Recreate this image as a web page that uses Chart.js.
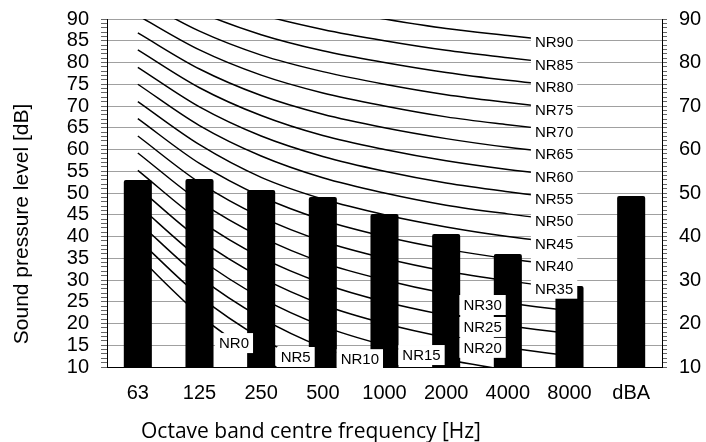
<!DOCTYPE html>
<html>
<head>
<meta charset="utf-8">
<script src="https://cdn.jsdelivr.net/npm/chart.js@4.4.1/dist/chart.umd.min.js"></script>
<style>
  html, body { margin: 0; padding: 0; background: #fff; }
  #wrap { width: 706px; height: 442px; }
</style>
</head>
<body>
<div id="wrap"><canvas id="nrChart"></canvas></div>
<script>
// Categories and measured levels
const frequencies = ['63', '125', '250', '500', '1000', '2000', '4000', '8000', 'dBA'];
const measured = [53.0, 53.2, 50.7, 49.1, 45.2, 40.6, 36.0, 28.6, 49.3];

// Tick labels
const leftTicks = [10, 15, 20, 25, 30, 35, 40, 45, 50, 55, 60, 65, 70, 75, 80, 85, 90];
const rightTicks = [10, 20, 30, 40, 50, 60, 70, 80, 90];

// NR curves, 63 Hz .. 8000 Hz
const NR0 = [35.5, 22.0, 12.0, 4.8, 0.0, -3.5, -6.1, -8.0];
const NR5 = [39.4, 26.3, 16.6, 9.7, 5.0, 1.6, -1.0, -2.8];
const NR10 = [43.4, 30.7, 21.3, 14.5, 10.0, 6.6, 4.2, 2.3];
const NR15 = [47.3, 35.0, 25.9, 19.4, 15.0, 11.7, 9.3, 7.4];
const NR20 = [51.3, 39.4, 30.6, 24.3, 20.0, 16.8, 14.4, 12.6];
const NR25 = [55.2, 43.7, 35.2, 29.2, 25.0, 21.9, 19.5, 17.7];
const NR30 = [59.2, 48.1, 39.9, 34.0, 30.0, 26.9, 24.7, 22.9];
const NR35 = [63.1, 52.4, 44.5, 38.9, 35.0, 32.0, 29.8, 28.0];
const NR40 = [67.1, 56.8, 49.2, 43.8, 40.0, 37.1, 34.9, 33.2];
const NR45 = [71.0, 61.1, 53.6, 48.6, 45.0, 42.2, 40.0, 38.3];
const NR50 = [75.0, 65.5, 58.5, 53.5, 50.0, 47.2, 45.2, 43.5];
const NR55 = [78.9, 69.8, 63.1, 58.4, 55.0, 52.3, 50.3, 48.6];
const NR60 = [82.9, 74.2, 67.8, 63.2, 60.0, 57.4, 55.4, 53.8];
const NR65 = [86.8, 78.5, 72.4, 68.1, 65.0, 62.5, 60.5, 58.9];
const NR70 = [90.8, 82.9, 77.1, 73.0, 70.0, 67.5, 65.7, 64.1];
const NR75 = [94.7, 87.2, 81.7, 77.9, 75.0, 72.6, 70.8, 69.2];
const NR80 = [98.7, 91.6, 86.4, 82.7, 80.0, 77.7, 75.9, 74.4];
const NR85 = [102.6, 95.9, 91.0, 87.6, 85.0, 82.8, 81.1, 79.5];
const NR90 = [106.6, 100.3, 95.7, 92.5, 90.0, 87.8, 86.2, 84.7];

const nrLevels = [0, 5, 10, 15, 20, 25, 30, 35, 40, 45, 50, 55, 60, 65, 70, 75, 80, 85, 90];
const nrCurves = [NR0, NR5, NR10, NR15, NR20, NR25, NR30, NR35, NR40, NR45,
  NR50, NR55, NR60, NR65, NR70, NR75, NR80, NR85, NR90];

// Where the low curve labels sit (category index, dB); the rest sit by the 8000 point
const lowLabelAt = {
  0: [1.56, 15.5],
  5: [2.56, 12.3],
  10: [3.6, 11.8],
  15: [4.6, 12.75],
  20: [5.59, 14.4],
  25: [5.59, 19.2],
  30: [5.59, 24.25],
};

const FONT = '"Liberation Sans", Arial, sans-serif';

// Line datasets
const curveSets = nrCurves.map((vals, i) => ({
  type: 'line',
  label: 'NR' + nrLevels[i],
  data: vals,
  borderColor: '#000',
  borderWidth: 1.5,
  pointRadius: 0,
  fill: false,
  cubicInterpolationMode: 'monotone',
  order: 1,
}));

// Label boxes on top of everything
const nrLabels = {
  id: 'nrLabels',
  afterDatasetsDraw(chart) {
    const { ctx } = chart;
    const x = chart.scales.x;
    const y = chart.scales.y;
    ctx.save();
    ctx.font = '15px ' + FONT;
    ctx.textAlign = 'center';
    ctx.textBaseline = 'middle';
    nrLevels.forEach((lv, i) => {
      const pos = lowLabelAt[lv] || [6.75, nrCurves[i][7]];
      const px = x.getPixelForValue(pos[0]);
      const py = y.getPixelForValue(pos[1]);
      const text = 'NR' + lv;
      const w = ctx.measureText(text).width + 8;
      const h = 20;
      ctx.fillStyle = '#fff';
      ctx.fillRect(px - w / 2, py - h / 2, w, h);
      ctx.fillStyle = '#000';
      ctx.fillText(text, px, py + 1);
    });
    ctx.restore();
  },
};

// Axis titles
const axisTitles = {
  id: 'axisTitles',
  afterDraw(chart) {
    const { ctx } = chart;
    ctx.save();
    ctx.fillStyle = '#000';
    ctx.textAlign = 'center';
    ctx.textBaseline = 'middle';
    ctx.font = '21px ' + FONT;
    ctx.translate(22, 224);
    ctx.rotate(-Math.PI / 2);
    ctx.fillText('Sound pressure level [dB]', 0, 0);
    ctx.restore();

    ctx.save();
    ctx.fillStyle = '#000';
    ctx.textAlign = 'center';
    ctx.textBaseline = 'middle';
    ctx.font = '21px "Open Sans", sans-serif';
    ctx.fillText('Octave band centre frequency [Hz]', 311, 432);
    ctx.restore();
  },
};

// Fix axis box sizes so the plot area matches
function fixVertical(width) {
  return (s) => {
    s.width = width;
    s.paddingTop = 0;
    s.paddingBottom = 0;
  };
}

new Chart(document.getElementById('nrChart'), {
  type: 'bar',
  data: {
    labels: frequencies,
    datasets: [
      {
        type: 'bar',
        label: 'Measured',
        data: measured,
        backgroundColor: '#000',
        barPercentage: 0.455,
        categoryPercentage: 1,
        borderRadius: { topLeft: 2, topRight: 2 },
        order: 0,
      },
      ...curveSets,
    ],
  },
  options: {
    responsive: true,
    maintainAspectRatio: false,
    animation: false,
    layout: { padding: { top: 19, left: 0, right: 0, bottom: 0 } },
    plugins: {
      legend: { display: false },
      tooltip: { enabled: false },
    },
    scales: {
      x: {
        type: 'category',
        offset: true,
        grid: { display: false, drawTicks: false },
        border: { color: '#000', width: 1 },
        ticks: { color: '#000', font: { family: FONT, size: 20 }, padding: 14 },
        afterFit: (s) => {
          s.height = 75;
          s.paddingLeft = 0;
          s.paddingRight = 0;
        },
      },
      y: {
        position: 'left',
        min: 10,
        max: 90,
        ticks: {
          stepSize: 1,
          maxTicksLimit: 100,
          autoSkip: false,
          color: '#000',
          font: { family: FONT, size: 20 },
          padding: 12,
          callback: (v) => (leftTicks.includes(v) ? String(v) : ''),
        },
        grid: {
          color: (c) => (c.tick && c.tick.value % 5 === 0 && c.tick.value > 10 ? '#a0a0a0' : 'rgba(0,0,0,0)'),
          tickColor: '#666',
          tickLength: 6,
          lineWidth: 1,
        },
        border: { color: '#000', width: 1 },
        afterFit: fixVertical(107),
      },
      y2: {
        position: 'right',
        min: 10,
        max: 90,
        ticks: {
          stepSize: 1,
          maxTicksLimit: 100,
          autoSkip: false,
          color: '#000',
          font: { family: FONT, size: 20 },
          padding: 12,
          callback: (v) => (rightTicks.includes(v) ? String(v) : ''),
        },
        grid: { drawOnChartArea: false, tickColor: '#666', tickLength: 5 },
        border: { color: '#000', width: 1 },
        afterFit: fixVertical(44),
      },
    },
  },
  plugins: [nrLabels, axisTitles],
});
</script>
</body>
</html>
